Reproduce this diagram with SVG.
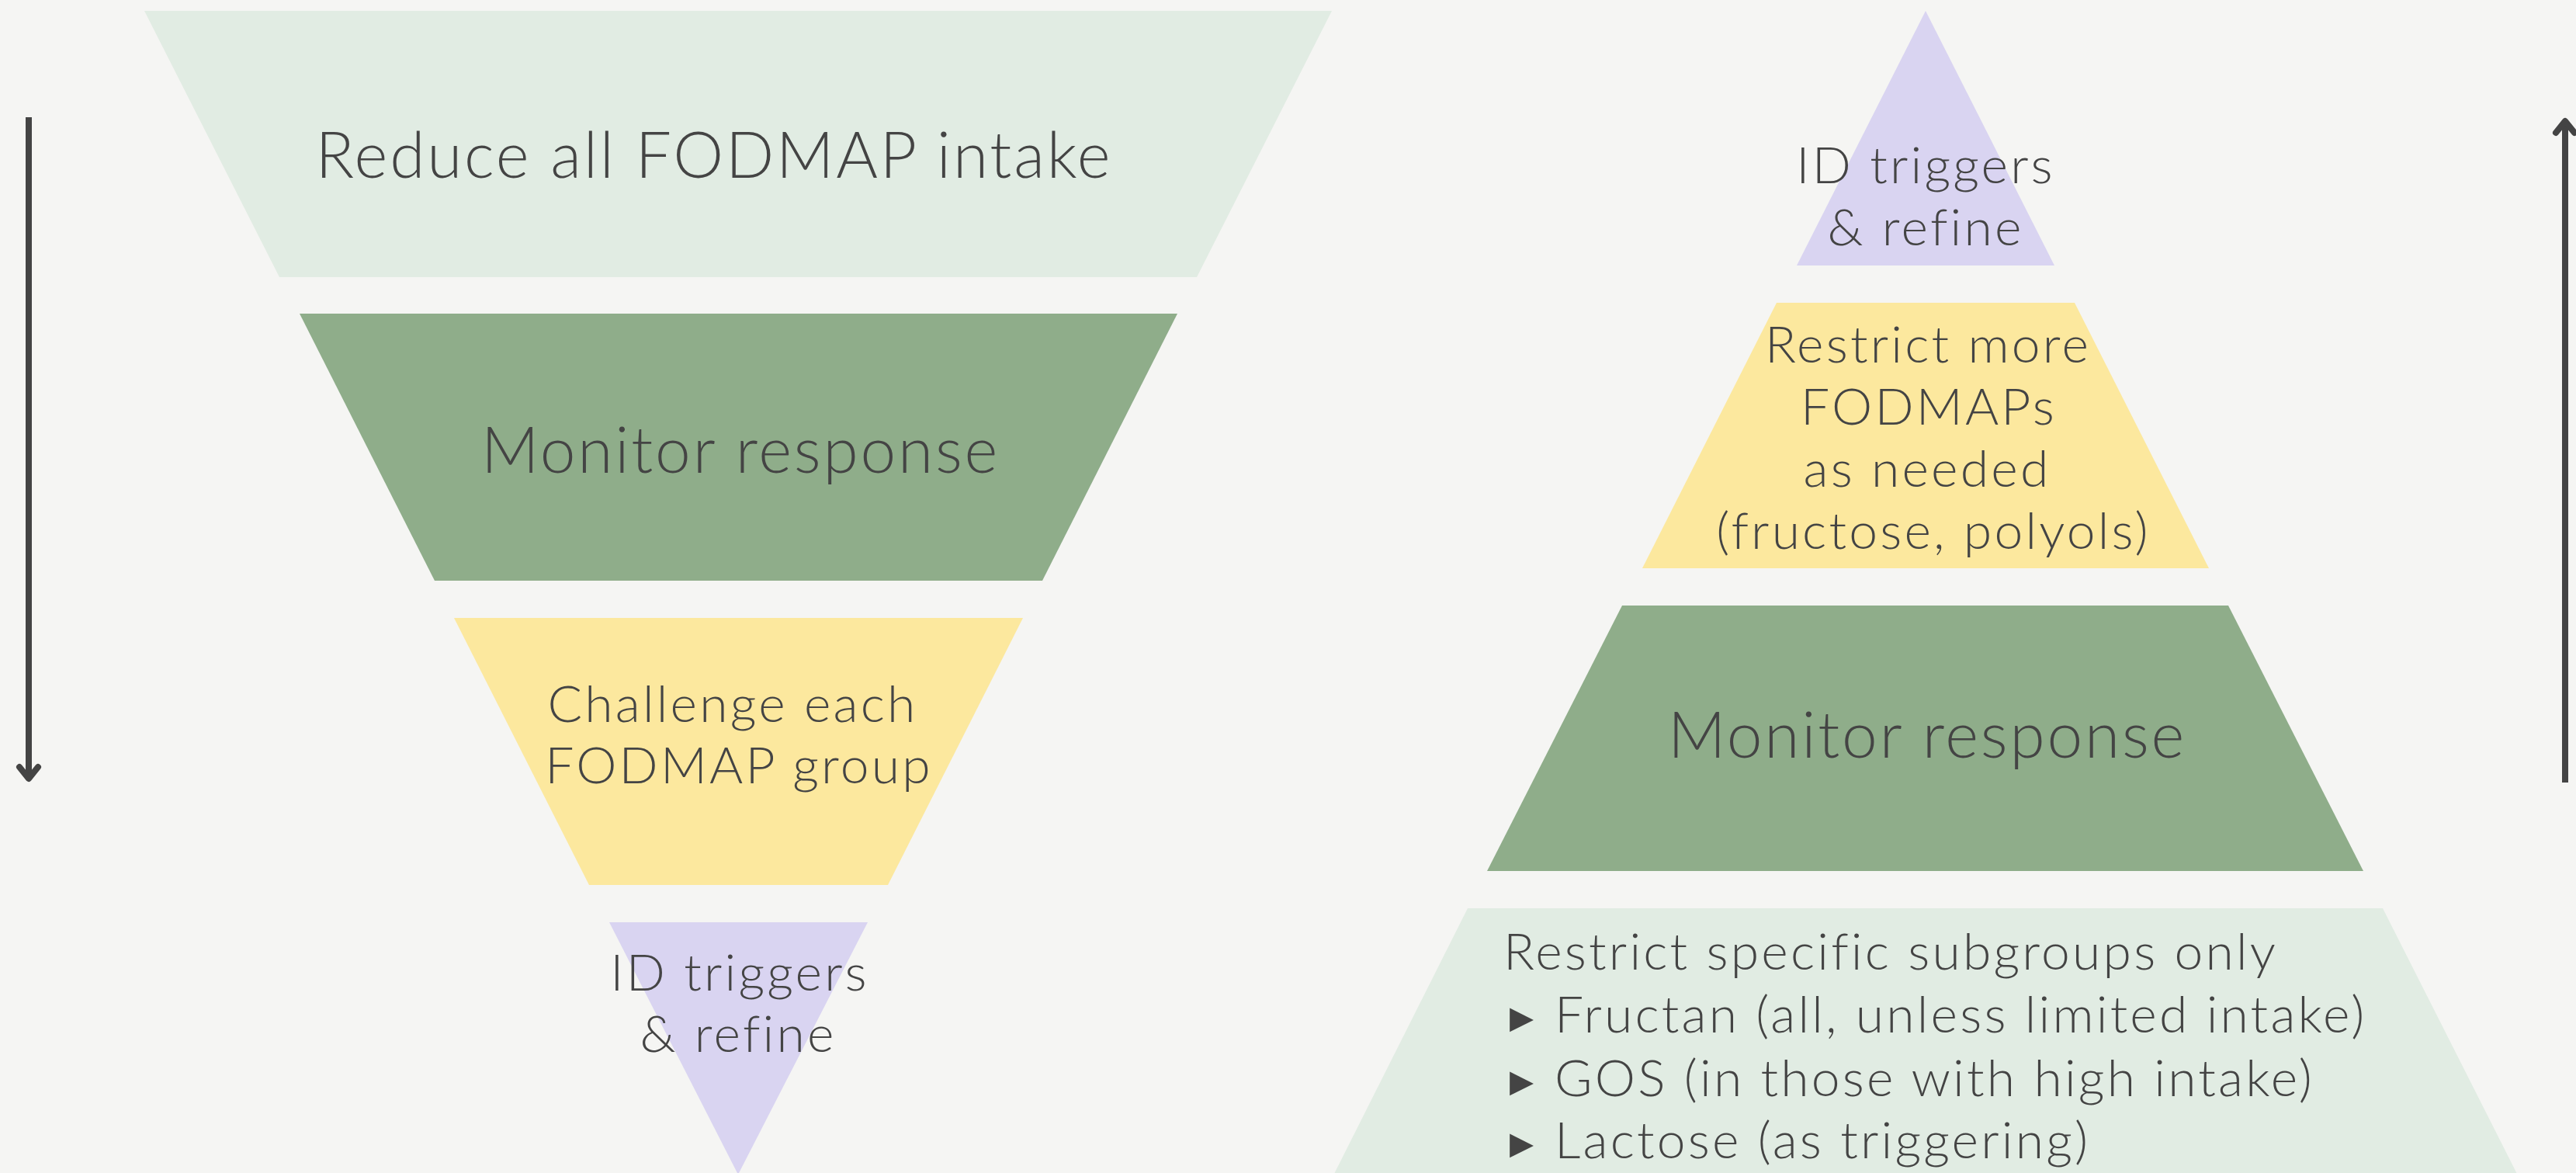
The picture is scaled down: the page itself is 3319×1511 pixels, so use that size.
<svg xmlns="http://www.w3.org/2000/svg" width="3319" height="1511" viewBox="0 0 3319 1511">
  <style>
    .bg { fill: #f5f5f3; }
    .pale { fill: #e1ece3; }
    .sage { fill: #8fad8a; }
    .butter { fill: #fce89e; }
    .lilac { fill: #d9d4f1; }
    text { font-family: "Lato", "Open Sans", "Liberation Sans", sans-serif; font-weight: 300; fill: #444444; }
    .big { font-size: 82px; letter-spacing: 2.8px; text-anchor: middle; }
    .mid { font-size: 66px; letter-spacing: 3.2px; text-anchor: middle; }
    .list { font-size: 66px; letter-spacing: 3.2px; }
    .bullet { font-family: "DejaVu Sans", sans-serif; font-size: 62px; }
    .axis { stroke: #444444; stroke-width: 8; fill: none; }
  </style>
  <defs>
    <marker id="chevron" viewBox="-20 -20 40 40" markerWidth="40" markerHeight="40" refX="0" refY="0" orient="auto" markerUnits="userSpaceOnUse" overflow="visible">
      <path d="M -15 -12 L 0 0 L -15 12" fill="none" stroke="#444444" stroke-width="8" stroke-linecap="round" stroke-linejoin="round"/>
    </marker>
  </defs>

  <rect class="bg" x="0" y="0" width="3319" height="1511"/>

  <!-- Elimination funnel (narrowing downward) -->
  <g id="funnel-reduce">
    <polygon class="pale" points="186,14 1716,14 1542,357 360,357"/>
    <text class="big" x="920" y="229">Reduce all FODMAP intake</text>
  </g>
  <g id="funnel-monitor">
    <polygon class="sage" points="386,404 1517,404 1343,748 560,748"/>
    <text class="big" x="954" y="609">Monitor response</text>
  </g>
  <g id="funnel-challenge">
    <polygon class="butter" points="585,796 1318,796 1144,1140 759,1140"/>
    <text class="mid" x="944" y="930">Challenge each</text>
    <text class="mid" x="952" y="1009">FODMAP group</text>
  </g>
  <g id="funnel-identify">
    <polygon class="lilac" points="785,1188 1118,1188 951,1513"/>
    <text class="mid" x="953" y="1276">ID triggers</text>
    <text class="mid" x="951" y="1355">&amp; refine</text>
  </g>

  <!-- Personalisation pyramid (widening downward) -->
  <g id="pyramid-identify">
    <polygon class="lilac" points="2481,14 2647,342 2315,342"/>
    <text class="mid" x="2481" y="236">ID triggers</text>
    <text class="mid" x="2481" y="316">&amp; refine</text>
  </g>
  <g id="pyramid-restrict-more">
    <polygon class="butter" points="2289,390 2673,390 2846,732 2116,732"/>
    <text class="mid" x="2484" y="467">Restrict more</text>
    <text class="mid" x="2485" y="547">FODMAPs</text>
    <text class="mid" x="2483" y="627">as needed</text>
    <text class="mid" x="2491" y="707">(fructose, polyols)</text>
  </g>
  <g id="pyramid-monitor">
    <polygon class="sage" points="2090,780 2871,780 3045,1122 1916,1122"/>
    <text class="big" x="2483" y="976">Monitor response</text>
  </g>
  <g id="pyramid-restrict-specific">
    <polygon class="pale" points="1891,1170 3070,1170 3244,1514 1718,1514"/>
    <text class="list" x="1937" y="1249">Restrict specific subgroups only</text>
    <text class="bullet" x="1945" y="1330">▸</text>
    <text class="list" x="2003" y="1330">Fructan (all, unless limited intake)</text>
    <text class="bullet" x="1945" y="1412">▸</text>
    <text class="list" x="2003" y="1412">GOS (in those with high intake)</text>
    <text class="bullet" x="1945" y="1492">▸</text>
    <text class="list" x="2003" y="1492">Lactose (as triggering)</text>
  </g>

  <!-- Direction arrows -->
  <g id="connectors">
    <line class="axis" x1="37" y1="151" x2="37" y2="1003" marker-end="url(#chevron)"/>
    <line class="axis" x1="3305" y1="1008" x2="3305" y2="156" marker-end="url(#chevron)"/>
  </g>
</svg>
